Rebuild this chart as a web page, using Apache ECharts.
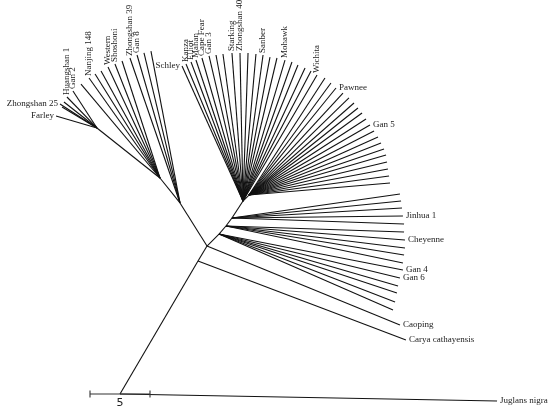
<!DOCTYPE html>
<html>
<head>
<meta charset="utf-8">
<script src="https://cdn.jsdelivr.net/npm/echarts@6/dist/echarts.min.js"></script>
<style>
html,body{margin:0;padding:0;background:#fff;}
#chart{width:550px;height:413px;}
</style>
</head>
<body>
<div id="chart"></div>
<script>
// ---- Tree data (branch-length units; scale bar = 5) ----
const nodeIds     = ['A', 'B', 'C', 'E', 'E1', 'E2', 'K1', 'H2', 'H3', 'F', 'F2'];
const nodeParents = [null, 'A', 'B', 'C', 'E', 'E1', 'C', 'K1', 'H2', 'H3', 'F'];
const nodeX = [0, 6.50, 7.25, 5.00, 3.33, -1.92, 8.25, 8.83, 9.33, 10.25, 10.75];
const nodeY = [0, 11.08, 12.33, 15.92, 18.00, 22.17, 13.33, 14.00, 14.67, 16.08, 16.58];

const leafNames = [
  'Farley','Zhongshan 25','','','Huangshan 1','Gan 2',
  '','Nanjing 148','','','Western','Shoshoni','',
  'Zhongshan 39','Gan 8','','',
  'Schley','Kanza','Elliot','Mahan','Cape Fear','Gan 3','','','Starking','Zhongshan 40','','','Sanber','','','Mohawk','','','','','Wichita',
  '','','Pawnee','','','','','','','Gan 5','','','','','','','','','',
  '','','','Jinhua 1','',
  '','Cheyenne','','','',
  'Gan 4','Gan 6','','','','',
  'Caoping','Carya cathayensis','Juglans nigra'
];
const leafParents = [
  'E2','E2','E2','E2','E2','E2',
  'E1','E1','E1','E1','E1','E1','E1',
  'E','E','E','E',
  'F','F','F','F','F','F','F','F','F','F','F','F','F','F','F','F','F','F','F','F','F',
  'F2','F2','F2','F2','F2','F2','F2','F2','F2','F2','F2','F2','F2','F2','F2','F2','F2','F2','F2',
  'H3','H3','H3','H3','H3',
  'H2','H2','H2','H2','H2',
  'K1','K1','K1','K1','K1','K1',
  'C','B','A'
];
const leafX = [
  -5.33,-5.00,-4.83,-4.67,-4.42,-3.92,
  -3.25,-2.58,-2.08,-1.58,-1.00,-0.42,0.17,
  0.83,1.42,2.00,2.58,
  5.17,5.50,5.92,6.33,6.83,7.42,8.00,8.58,9.33,10.00,10.67,11.33,11.92,12.50,13.08,13.75,14.33,14.83,15.42,15.92,16.42,
  17.08,17.58,18.00,18.58,19.08,19.50,19.83,20.17,20.50,20.83,21.17,21.50,21.75,22.00,22.17,22.25,22.33,22.42,22.50,
  23.33,23.42,23.50,23.58,23.67,
  23.67,23.75,23.75,23.67,23.58,
  23.58,23.33,23.17,23.08,22.92,22.75,
  23.33,23.83,31.42
];
const leafY = [
  23.17,24.17,23.92,24.33,24.75,25.25,
  25.83,26.33,26.67,26.92,27.25,27.50,27.75,
  28.00,28.25,28.42,28.58,
  27.33,27.50,27.67,27.83,28.00,28.17,28.25,28.33,28.42,28.42,28.42,28.33,28.25,28.08,28.00,27.83,27.67,27.42,27.17,26.92,26.58,
  26.33,25.92,25.50,25.08,24.67,24.25,23.83,23.42,22.92,22.42,21.92,21.42,20.92,20.42,19.92,19.33,18.75,18.17,17.58,
  16.67,16.08,15.50,14.83,14.17,
  13.50,12.83,12.17,11.58,10.92,
  10.33,9.67,9.00,8.42,7.67,7.00,
  5.75,4.50,-0.58
];
const scaleBarLength = [5];
const scaleBarLabel = ['5'];

// ---- build edges ----
const pos = {};
nodeIds.forEach((id, i) => { pos[id] = [nodeX[i], nodeY[i]]; });
const edges = [];
nodeIds.forEach((id, i) => {
  const p = nodeParents[i];
  if (p) edges.push([pos[id][0], pos[id][1], pos[p][0], pos[p][1]]);
});
leafNames.forEach((n, i) => {
  const p = pos[leafParents[i]];
  edges.push([leafX[i], leafY[i], p[0], p[1]]);
});

const leftLabels = ['Farley', 'Zhongshan 25', 'Schley'];
const upLabels = ['Huangshan 1','Gan 2','Nanjing 148','Western','Shoshoni','Zhongshan 39','Gan 8',
  'Kanza','Elliot','Mahan','Cape Fear','Gan 3','Starking','Zhongshan 40','Sanber','Mohawk','Wichita'];
const labelData = [];
leafNames.forEach((n, i) => { if (n) labelData.push([leafX[i], leafY[i], n]); });

const FONT = '9px "Liberation Serif", "Times New Roman", serif';

const chart = echarts.init(document.getElementById('chart'), null, {renderer: 'canvas'});
chart.setOption({
  animation: false,
  backgroundColor: '#fff',
  grid: {left: 0, right: 0, top: 0, bottom: 0},
  xAxis: {type: 'value', min: -10, max: 35.8333, show: false},
  yAxis: {type: 'value', min: -1.5833, max: 32.8333, show: false},
  series: [
    {
      type: 'custom',
      coordinateSystem: 'cartesian2d',
      data: edges,
      silent: true,
      renderItem: function (params, api) {
        const a = api.coord([api.value(0), api.value(1)]);
        const b = api.coord([api.value(2), api.value(3)]);
        return {type: 'line', shape: {x1: a[0], y1: a[1], x2: b[0], y2: b[1]},
          style: {stroke: '#111', lineWidth: 1.1}};
      }
    },
    {
      type: 'custom',
      coordinateSystem: 'cartesian2d',
      data: labelData,
      silent: true,
      renderItem: function (params, api) {
        const d = labelData[params.dataIndex];
        const p = api.coord([d[0], d[1]]);
        const name = d[2];
        if (upLabels.indexOf(name) >= 0) {
          return {type: 'text', x: p[0], y: p[1] - 2, rotation: Math.PI / 2,
            style: {text: name, fill: '#222', font: FONT, align: 'left', verticalAlign: 'middle'}};
        }
        if (leftLabels.indexOf(name) >= 0) {
          return {type: 'text', x: p[0] - 2, y: p[1], 
            style: {text: name, fill: '#222', font: FONT, align: 'right', verticalAlign: 'middle'}};
        }
        return {type: 'text', x: p[0] + 3, y: p[1],
          style: {text: name, fill: '#222', font: FONT, align: 'left', verticalAlign: 'middle'}};
      }
    },
    {
      type: 'custom',
      coordinateSystem: 'cartesian2d',
      data: [[0, 0]],
      silent: true,
      renderItem: function (params, api) {
        const L = scaleBarLength[0];
        const a = api.coord([-L / 2, 0]);
        const b = api.coord([L / 2, 0]);
        const c = api.coord([0, 0]);
        const st = {stroke: '#333', lineWidth: 1.1};
        return {type: 'group', children: [
          {type: 'line', shape: {x1: a[0], y1: a[1], x2: b[0], y2: b[1]}, style: st},
          {type: 'line', shape: {x1: a[0], y1: a[1] - 3.5, x2: a[0], y2: a[1] + 3.5}, style: st},
          {type: 'line', shape: {x1: b[0], y1: b[1] - 3.5, x2: b[0], y2: b[1] + 3.5}, style: st},
          {type: 'text', x: c[0], y: c[1] + 4, style: {text: scaleBarLabel[0], fill: '#222',
            font: '11px "DejaVu Sans", sans-serif', align: 'center', verticalAlign: 'top'}}
        ]};
      }
    }
  ]
});
</script>
</body>
</html>
